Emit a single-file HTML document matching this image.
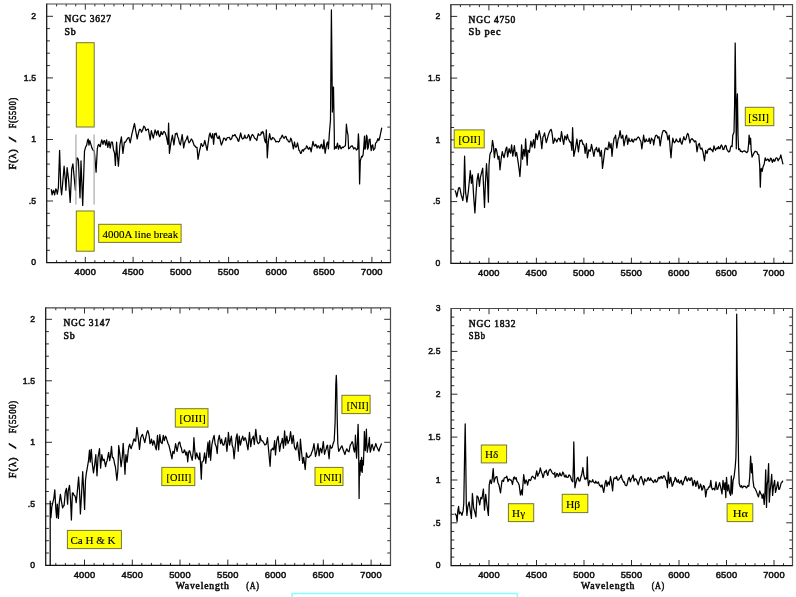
<!DOCTYPE html>
<html><head><meta charset="utf-8"><title>Galaxy spectra</title>
<style>
html,body{margin:0;padding:0;background:#fff;}
body{width:796px;height:597px;overflow:hidden;position:relative;}
svg text{fill:#000;}
.tk{font-family:"Liberation Sans",sans-serif;font-size:8.6px;letter-spacing:0.2px;fill:#111;stroke:#111;stroke-width:0.5px;}
.tt{font-family:"Liberation Serif",serif;font-size:9.3px;letter-spacing:0.75px;fill:#111;stroke:#111;stroke-width:0.55px;}
.lb{font-family:"Liberation Serif",serif;font-size:11.1px;stroke:#000;stroke-width:0.12px;}
</style></head><body>
<svg width="796" height="597" viewBox="0 0 796 597" style="position:absolute;left:0;top:0;will-change:transform">
<rect width="796" height="597" fill="#fff"/>
<rect x="292.0" y="593.5" width="225.4" height="8" rx="0.8" fill="#ffffff" stroke="#86fffa" stroke-width="1.6"/>
<path d="M56.6,262.6v-2.4M56.6,4.0v2.4M66.2,262.6v-2.4M66.2,4.0v2.4M75.7,262.6v-2.4M75.7,4.0v2.4M85.3,262.6v-5.7M85.3,4.0v5.7M94.9,262.6v-2.4M94.9,4.0v2.4M104.4,262.6v-2.4M104.4,4.0v2.4M114.0,262.6v-2.4M114.0,4.0v2.4M123.5,262.6v-2.4M123.5,4.0v2.4M133.1,262.6v-5.7M133.1,4.0v5.7M142.6,262.6v-2.4M142.6,4.0v2.4M152.2,262.6v-2.4M152.2,4.0v2.4M161.7,262.6v-2.4M161.7,4.0v2.4M171.3,262.6v-2.4M171.3,4.0v2.4M180.8,262.6v-5.7M180.8,4.0v5.7M190.4,262.6v-2.4M190.4,4.0v2.4M199.9,262.6v-2.4M199.9,4.0v2.4M209.5,262.6v-2.4M209.5,4.0v2.4M219.0,262.6v-2.4M219.0,4.0v2.4M228.6,262.6v-5.7M228.6,4.0v5.7M238.1,262.6v-2.4M238.1,4.0v2.4M247.7,262.6v-2.4M247.7,4.0v2.4M257.3,262.6v-2.4M257.3,4.0v2.4M266.8,262.6v-2.4M266.8,4.0v2.4M276.4,262.6v-5.7M276.4,4.0v5.7M285.9,262.6v-2.4M285.9,4.0v2.4M295.5,262.6v-2.4M295.5,4.0v2.4M305.0,262.6v-2.4M305.0,4.0v2.4M314.6,262.6v-2.4M314.6,4.0v2.4M324.1,262.6v-5.7M324.1,4.0v5.7M333.7,262.6v-2.4M333.7,4.0v2.4M343.2,262.6v-2.4M343.2,4.0v2.4M352.8,262.6v-2.4M352.8,4.0v2.4M362.3,262.6v-2.4M362.3,4.0v2.4M371.9,262.6v-5.7M371.9,4.0v5.7M381.4,262.6v-2.4M381.4,4.0v2.4M46.7,250.3h3.2M390.5,250.3h-3.2M46.7,238.0h3.2M390.5,238.0h-3.2M46.7,225.7h3.2M390.5,225.7h-3.2M46.7,213.3h3.2M390.5,213.3h-3.2M46.7,201.0h6.3M390.5,201.0h-6.3M46.7,188.7h3.2M390.5,188.7h-3.2M46.7,176.4h3.2M390.5,176.4h-3.2M46.7,164.1h3.2M390.5,164.1h-3.2M46.7,151.8h3.2M390.5,151.8h-3.2M46.7,139.5h6.3M390.5,139.5h-6.3M46.7,127.1h3.2M390.5,127.1h-3.2M46.7,114.8h3.2M390.5,114.8h-3.2M46.7,102.5h3.2M390.5,102.5h-3.2M46.7,90.2h3.2M390.5,90.2h-3.2M46.7,77.9h6.3M390.5,77.9h-6.3M46.7,65.6h3.2M390.5,65.6h-3.2M46.7,53.2h3.2M390.5,53.2h-3.2M46.7,40.9h3.2M390.5,40.9h-3.2M46.7,28.6h3.2M390.5,28.6h-3.2M46.7,16.3h6.3M390.5,16.3h-6.3" stroke="#222" stroke-width="0.95" fill="none"/>
<path d="M46.7,3.4V262.6H391.1" fill="none" stroke="#111" stroke-width="1.25"/>
<path d="M46.7,4.0H390.5V262.6" fill="none" stroke="#4a4a4a" stroke-width="1.2"/>
<text class="tk" x="74.5" y="275.1" textLength="21.6" lengthAdjust="spacingAndGlyphs">4000</text>
<text class="tk" x="122.3" y="275.1" textLength="21.6" lengthAdjust="spacingAndGlyphs">4500</text>
<text class="tk" x="170.0" y="275.1" textLength="21.6" lengthAdjust="spacingAndGlyphs">5000</text>
<text class="tk" x="217.8" y="275.1" textLength="21.6" lengthAdjust="spacingAndGlyphs">5500</text>
<text class="tk" x="265.6" y="275.1" textLength="21.6" lengthAdjust="spacingAndGlyphs">6000</text>
<text class="tk" x="313.3" y="275.1" textLength="21.6" lengthAdjust="spacingAndGlyphs">6500</text>
<text class="tk" x="361.1" y="275.1" textLength="21.6" lengthAdjust="spacingAndGlyphs">7000</text>
<text class="tk" x="36.3" y="265.3" text-anchor="end">0</text>
<text class="tk" x="36.3" y="203.7" text-anchor="end">.5</text>
<text class="tk" x="36.3" y="142.2" text-anchor="end">1</text>
<text class="tk" x="36.3" y="80.6" text-anchor="end">1.5</text>
<text class="tk" x="36.3" y="19.0" text-anchor="end">2</text>
<text class="tt" x="64.4" y="22.3" textLength="47.4" lengthAdjust="spacingAndGlyphs">NGC 3627</text>
<text class="tt" x="64.4" y="34.7" textLength="12.0" lengthAdjust="spacingAndGlyphs">Sb</text>
<g transform="translate(16.2,169.5) rotate(-90)"><text class="tt" x="0" y="0" textLength="21" lengthAdjust="spacingAndGlyphs">F(λ)</text><text class="tt" x="27.4" y="0" textLength="6.5" lengthAdjust="spacingAndGlyphs">/</text><text class="tt" x="41.2" y="0" textLength="31.2" lengthAdjust="spacingAndGlyphs">F(5500)</text></g>
<polyline points="51.3,189.6 52.1,194.8 52.8,191.7 53.6,190.3 54.6,194.8 55.8,188.8 56.6,190.5 57.3,194.1 58.4,187.3 59.6,150.3 60.8,187.3 61.6,194.8 62.6,184.3 64.1,166.2 65.3,179.8 65.9,190.3 67.1,167.7 68.6,179.8 70.2,202.4 71.7,169.2 72.9,163.9 74.4,179.8 75.4,190.3 76.9,157.9 77.7,158.3 78.4,160.2 80.0,197.8 81.0,160.9 82.7,205.4 84.5,151.1 85.6,147.2 86.7,145.1 87.5,140.6 88.2,139.1 89.0,145.1 89.8,140.6 92.0,148.1 93.1,150.2 94.3,151.1 96.1,172.2 97.3,148.8 98.0,145.6 98.8,144.3 99.5,146.1 100.3,146.6 101.1,142.5 101.8,139.8 103.0,144.3 103.8,141.0 104.5,140.6 105.7,145.1 106.6,139.8 107.8,147.3 109.0,141.3 110.2,148.1 111.2,142.1 112.4,142.1 113.6,150.3 114.6,153.4 115.4,165.4 116.6,142.1 117.2,152.6 118.4,166.2 119.9,145.1 121.4,136.8 122.9,153.4 124.4,142.1 125.5,142.1 126.7,139.8 127.8,138.0 128.9,137.5 130.2,142.8 132.0,133.7 134.5,123.5 135.7,130.7 137.2,139.0 138.0,135.0 138.7,132.2 139.5,129.5 140.0,129.2 140.8,129.8 141.5,132.2 142.6,130.3 143.8,126.2 144.9,127.3 146.0,130.7 147.2,129.3 148.3,129.2 150.2,139.8 151.3,130.7 153.3,138.2 155.1,129.9 155.8,131.7 156.6,135.2 157.3,131.9 158.1,130.7 158.8,134.8 159.6,136.7 160.3,135.4 161.1,131.5 161.9,134.1 162.6,134.5 163.4,132.0 164.1,131.5 165.2,132.8 166.4,136.7 167.9,144.3 168.6,123.2 169.4,153.3 170.9,142.8 172.4,135.2 173.9,145.0 175.4,133.7 176.2,134.0 176.9,133.0 177.7,136.7 178.4,138.2 179.4,142.9 180.4,145.0 182.2,134.5 183.7,148.0 184.5,143.5 185.2,141.3 186.4,139.3 187.5,136.0 188.2,140.1 189.0,142.8 190.1,141.6 191.3,139.0 192.4,140.3 193.5,143.5 194.3,145.9 195.0,145.8 196.0,147.4 197.0,147.3 198.0,159.3 199.6,150.3 200.3,148.0 201.1,143.5 201.8,144.4 202.6,146.5 203.7,145.0 204.8,140.5 207.1,150.3 208.6,139.8 209.3,135.1 210.1,133.0 210.8,136.3 211.6,138.2 212.7,133.7 213.6,144.3 214.6,133.7 215.4,134.5 216.1,133.0 216.9,136.5 217.6,138.2 218.4,138.5 219.2,136.0 221.4,145.0 222.5,142.2 223.7,138.2 224.8,138.4 225.9,140.5 227.1,137.9 228.2,137.5 229.3,137.3 230.4,139.8 231.6,138.8 232.7,135.2 233.8,135.8 235.0,134.5 236.1,137.0 237.2,138.2 238.0,140.7 238.7,141.3 240.7,133.0 241.6,137.4 242.5,139.0 243.6,138.5 244.8,135.2 245.5,138.0 246.3,138.2 247.4,137.6 248.5,134.5 249.3,136.0 250.1,140.5 251.2,136.8 252.3,134.5 253.4,135.6 254.6,138.2 255.7,138.8 256.8,140.5 257.6,136.3 258.3,133.7 259.2,135.2 260.0,135.2 260.9,134.5 261.3,132.2 262.1,133.0 262.8,131.5 263.6,133.4 264.3,138.2 265.1,141.5 265.8,142.8 266.3,129.9 267.3,157.8 268.4,141.3 269.6,133.7 270.4,137.7 271.1,139.8 271.9,139.3 272.6,137.5 273.7,138.0 274.9,139.8 276.0,142.0 277.1,141.3 278.3,142.0 279.4,141.3 280.1,138.6 280.9,138.2 281.7,136.1 282.4,135.2 283.4,137.8 284.4,138.2 285.3,136.3 286.2,136.7 286.9,139.6 287.7,139.8 288.4,141.6 289.2,142.0 289.9,141.6 290.7,138.2 291.5,139.5 292.2,142.8 293.4,148.8 294.5,142.0 295.2,146.0 296.0,147.3 296.7,146.1 297.5,142.8 299.0,150.3 299.8,151.1 300.5,153.3 301.3,153.1 302.0,150.3 302.8,149.7 303.5,151.1 304.3,148.9 305.0,148.8 305.8,148.7 306.5,145.8 307.3,146.6 308.0,148.8 308.8,149.3 309.6,147.3 310.3,148.1 311.1,151.8 313.0,141.3 314.1,145.8 314.8,146.2 315.6,144.3 316.3,145.1 317.1,148.0 317.8,146.0 318.6,145.8 319.4,148.0 320.1,148.0 320.9,145.0 321.6,144.3 322.4,147.9 323.1,148.8 323.9,139.8 325.1,153.3 326.1,147.3 326.9,143.4 327.6,142.0 328.4,148.8 329.4,133.0 330.5,120.0 331.4,9.9 332.4,112.0 333.5,87.0 334.3,135.2 334.4,149.2 335.3,146.6 336.2,148.4 337.5,143.1 338.4,149.2 339.7,145.3 341.0,148.8 342.3,147.1 343.2,147.6 344.1,146.6 345.4,145.7 345.8,138.7 346.4,124.2 347.1,130.8 348.0,135.2 348.6,148.8 349.8,147.9 351.1,146.2 352.0,145.7 352.9,147.1 353.8,149.0 354.6,147.9 355.5,148.0 356.4,150.1 357.7,148.8 358.4,133.9 358.9,142.2 359.6,183.9 360.3,160.9 361.6,156.3 362.3,156.8 363.1,154.8 363.4,151.0 363.9,145.7 364.5,136.1 365.0,149.2 365.6,147.5 366.5,135.2 367.1,136.9 367.6,149.2 368.3,147.5 369.1,139.6 370.0,139.1 370.6,145.7 371.2,150.6 372.0,145.7 372.7,144.8 373.5,150.1 374.9,148.4 375.6,143.1 376.6,142.2 377.9,138.7 378.8,140.5 379.7,137.8 380.6,133.4 381.7,128.1" fill="none" stroke="#000" stroke-width="1.25" stroke-linejoin="round" stroke-linecap="round"/>
<path d="M460.4,263.4v-2.4M460.4,4.7v2.4M469.9,263.4v-2.4M469.9,4.7v2.4M479.4,263.4v-2.4M479.4,4.7v2.4M488.9,263.4v-5.7M488.9,4.7v5.7M498.4,263.4v-2.4M498.4,4.7v2.4M507.9,263.4v-2.4M507.9,4.7v2.4M517.4,263.4v-2.4M517.4,4.7v2.4M526.9,263.4v-2.4M526.9,4.7v2.4M536.4,263.4v-5.7M536.4,4.7v5.7M545.9,263.4v-2.4M545.9,4.7v2.4M555.4,263.4v-2.4M555.4,4.7v2.4M564.9,263.4v-2.4M564.9,4.7v2.4M574.4,263.4v-2.4M574.4,4.7v2.4M583.9,263.4v-5.7M583.9,4.7v5.7M593.4,263.4v-2.4M593.4,4.7v2.4M602.9,263.4v-2.4M602.9,4.7v2.4M612.4,263.4v-2.4M612.4,4.7v2.4M621.9,263.4v-2.4M621.9,4.7v2.4M631.4,263.4v-5.7M631.4,4.7v5.7M640.9,263.4v-2.4M640.9,4.7v2.4M650.4,263.4v-2.4M650.4,4.7v2.4M659.9,263.4v-2.4M659.9,4.7v2.4M669.4,263.4v-2.4M669.4,4.7v2.4M678.9,263.4v-5.7M678.9,4.7v5.7M688.4,263.4v-2.4M688.4,4.7v2.4M697.9,263.4v-2.4M697.9,4.7v2.4M707.4,263.4v-2.4M707.4,4.7v2.4M716.9,263.4v-2.4M716.9,4.7v2.4M726.4,263.4v-5.7M726.4,4.7v5.7M735.9,263.4v-2.4M735.9,4.7v2.4M745.4,263.4v-2.4M745.4,4.7v2.4M754.9,263.4v-2.4M754.9,4.7v2.4M764.4,263.4v-2.4M764.4,4.7v2.4M773.9,263.4v-5.7M773.9,4.7v5.7M783.4,263.4v-2.4M783.4,4.7v2.4M450.9,251.0h3.2M792.5,251.0h-3.2M450.9,238.7h3.2M792.5,238.7h-3.2M450.9,226.3h3.2M792.5,226.3h-3.2M450.9,214.0h3.2M792.5,214.0h-3.2M450.9,201.6h6.3M792.5,201.6h-6.3M450.9,189.3h3.2M792.5,189.3h-3.2M450.9,176.9h3.2M792.5,176.9h-3.2M450.9,164.6h3.2M792.5,164.6h-3.2M450.9,152.2h3.2M792.5,152.2h-3.2M450.9,139.9h6.3M792.5,139.9h-6.3M450.9,127.5h3.2M792.5,127.5h-3.2M450.9,115.2h3.2M792.5,115.2h-3.2M450.9,102.8h3.2M792.5,102.8h-3.2M450.9,90.5h3.2M792.5,90.5h-3.2M450.9,78.1h6.3M792.5,78.1h-6.3M450.9,65.8h3.2M792.5,65.8h-3.2M450.9,53.4h3.2M792.5,53.4h-3.2M450.9,41.1h3.2M792.5,41.1h-3.2M450.9,28.8h3.2M792.5,28.8h-3.2M450.9,16.4h6.3M792.5,16.4h-6.3" stroke="#222" stroke-width="0.95" fill="none"/>
<path d="M450.9,4.1000000000000005V263.4H793.1" fill="none" stroke="#111" stroke-width="1.25"/>
<path d="M450.9,4.7H792.5V263.4" fill="none" stroke="#4a4a4a" stroke-width="1.2"/>
<text class="tk" x="478.1" y="275.9" textLength="21.6" lengthAdjust="spacingAndGlyphs">4000</text>
<text class="tk" x="525.6" y="275.9" textLength="21.6" lengthAdjust="spacingAndGlyphs">4500</text>
<text class="tk" x="573.1" y="275.9" textLength="21.6" lengthAdjust="spacingAndGlyphs">5000</text>
<text class="tk" x="620.6" y="275.9" textLength="21.6" lengthAdjust="spacingAndGlyphs">5500</text>
<text class="tk" x="668.1" y="275.9" textLength="21.6" lengthAdjust="spacingAndGlyphs">6000</text>
<text class="tk" x="715.6" y="275.9" textLength="21.6" lengthAdjust="spacingAndGlyphs">6500</text>
<text class="tk" x="763.1" y="275.9" textLength="21.6" lengthAdjust="spacingAndGlyphs">7000</text>
<text class="tk" x="440.5" y="266.1" text-anchor="end">0</text>
<text class="tk" x="440.5" y="204.3" text-anchor="end">.5</text>
<text class="tk" x="440.5" y="142.6" text-anchor="end">1</text>
<text class="tk" x="440.5" y="80.8" text-anchor="end">1.5</text>
<text class="tk" x="440.5" y="19.1" text-anchor="end">2</text>
<text class="tt" x="468.6" y="23.0" textLength="47.4" lengthAdjust="spacingAndGlyphs">NGC 4750</text>
<text class="tt" x="468.6" y="35.4" textLength="32.7" lengthAdjust="spacingAndGlyphs">Sb pec</text>
<polyline points="455.2,190.8 456.0,193.0 456.8,196.9 458.3,189.3 459.0,187.6 459.8,187.8 461.3,195.4 462.0,197.3 462.8,200.7 463.8,192.4 464.6,156.2 465.6,192.4 466.9,202.2 468.4,190.8 469.4,180.3 470.3,170.5 471.4,183.3 472.4,175.0 473.6,195.4 474.9,212.9 476.1,192.4 477.0,180.3 478.2,173.5 479.4,186.3 480.4,177.3 481.5,172.8 482.7,168.2 483.4,183.3 484.5,207.4 485.4,183.3 486.5,163.7 487.5,180.3 488.4,202.2 489.0,165.2 489.9,154.7 490.7,152.2 491.4,151.7 492.5,140.3 493.5,146.4 494.4,157.7 495.5,148.6 496.3,149.1 497.0,152.4 498.1,159.2 499.0,156.2 500.0,169.8 501.1,159.2 502.3,151.7 503.2,155.3 504.1,157.7 505.3,151.7 506.1,148.4 506.8,147.1 507.6,156.9 509.1,148.6 509.8,151.6 510.6,153.2 511.6,144.9 512.8,156.2 514.4,145.6 515.5,156.2 516.6,152.4 518.1,162.2 519.2,169.8 519.9,176.5 520.8,163.7 521.6,144.9 522.6,159.2 523.7,149.4 524.9,156.2 525.6,138.8 527.2,165.2 527.9,150.2 528.7,150.6 529.4,152.4 530.9,141.1 532.1,147.1 533.6,139.6 534.7,147.9 535.9,133.6 536.6,135.1 537.3,139.6 539.2,130.6 540.7,138.1 541.8,148.6 543.0,136.6 543.7,135.8 544.5,132.8 546.3,142.6 548.3,135.1 549.2,132.5 550.1,130.6 551.0,129.3 551.7,131.3 552.3,135.1 553.2,143.4 554.0,141.8 554.8,138.1 555.0,139.8 555.9,139.8 556.8,142.0 557.8,139.4 558.8,138.2 559.5,138.8 560.3,141.3 561.5,131.5 562.8,139.8 563.7,144.3 564.8,136.0 565.5,136.8 566.3,139.8 567.4,134.5 568.1,138.2 568.9,139.8 569.9,142.2 570.8,142.0 571.9,150.3 572.6,127.7 573.8,156.3 575.4,148.8 576.9,139.0 578.4,151.8 579.9,140.5 580.6,141.2 581.4,139.8 582.1,141.1 582.9,144.3 583.6,144.1 584.4,146.5 585.1,153.3 586.4,143.5 587.4,157.8 588.9,149.6 589.7,151.0 590.4,151.1 591.5,144.3 592.7,150.3 593.9,156.3 595.0,149.6 595.7,149.5 596.5,147.3 597.2,150.8 598.0,151.8 599.0,148.0 600.2,156.3 601.4,150.3 602.5,168.4 603.5,160.8 604.8,150.3 605.5,148.0 606.3,148.0 607.0,149.5 607.8,149.6 609.0,142.0 610.0,148.0 611.1,143.5 612.0,156.3 613.0,145.8 614.1,138.2 614.9,137.5 615.6,135.2 616.8,148.0 618.0,139.8 619.1,136.7 620.1,130.7 621.3,138.2 622.1,137.5 622.8,135.2 624.0,145.8 625.1,139.8 625.9,136.5 626.6,135.2 627.7,144.3 628.9,138.2 629.6,141.0 630.4,141.3 631.1,141.0 631.9,139.0 632.6,141.6 633.4,142.0 634.1,139.8 634.9,139.0 636.0,140.1 637.2,138.2 638.3,137.0 639.4,138.2 640.2,140.4 640.9,141.3 641.8,148.8 642.7,142.8 643.6,135.2 644.7,142.0 645.5,141.7 646.2,139.0 647.0,141.0 647.7,141.3 648.5,141.2 649.2,138.2 650.3,143.5 651.5,138.2 652.2,139.6 653.0,139.8 653.7,145.0 654.8,138.2 655.5,135.8 656.3,135.2 657.1,135.7 657.8,138.2 659.0,136.7 660.2,145.8 661.3,138.2 662.3,133.0 663.3,130.5 664.3,130.7 665.0,130.7 665.8,132.7 666.5,132.2 668.0,139.8 669.2,135.2 670.3,150.3 671.0,157.8 671.8,147.3 672.8,138.2 673.6,141.4 674.4,142.8 675.3,141.6 676.3,139.0 677.4,141.5 678.6,142.0 679.3,141.5 680.1,138.2 681.0,142.6 681.9,144.3 683.8,136.7 684.6,139.5 685.4,139.8 686.1,138.7 686.9,135.2 687.6,133.4 688.4,134.5 689.9,142.8 690.6,140.2 691.4,139.0 692.1,138.6 692.9,139.8 693.6,140.3 694.4,142.0 695.1,140.8 695.9,141.3 697.0,151.8 698.2,145.0 699.4,143.5 700.4,148.8 701.2,149.2 701.9,148.0 703.0,151.8 704.5,160.8 705.7,150.3 706.5,153.0 707.2,153.3 708.0,149.6 708.7,148.8 709.5,149.4 710.2,148.0 711.0,149.8 711.7,149.6 712.9,151.8 714.0,145.8 714.8,148.7 715.5,150.3 716.3,148.5 717.0,148.0 717.8,148.8 718.5,146.5 719.3,148.4 720.0,148.8 720.8,145.8 721.5,145.0 722.3,146.7 723.0,149.6 723.8,149.5 724.5,147.3 725.3,145.4 726.1,145.8 726.8,149.4 727.6,150.3 728.3,151.8 729.1,151.8 729.8,151.0 730.6,147.3 731.3,145.9 732.1,146.5 732.8,135.2 734.0,132.2 734.6,105.1 735.2,43.0 735.9,105.1 736.3,148.8 736.8,105.1 737.4,93.8 738.0,135.2 738.6,149.6 739.6,148.8 740.4,151.3 741.1,151.1 742.3,152.1 743.4,151.1 744.5,150.8 745.6,151.8 746.8,152.7 747.9,151.1 748.7,142.8 749.1,135.2 750.2,144.3 750.6,138.2 751.2,150.3 752.1,157.1 753.2,154.8 754.2,152.6 755.2,151.2 756.2,151.8 757.0,151.9 757.7,154.1 758.8,154.8 759.7,165.4 760.3,187.2 760.9,171.4 761.2,168.4 762.2,171.4 763.0,166.9 764.2,163.9 765.2,157.8 766.0,160.4 766.8,160.1 767.5,159.0 768.3,159.3 769.0,161.4 769.8,160.8 770.5,158.2 771.3,158.6 772.3,162.4 773.5,159.3 774.3,161.3 775.0,160.8 775.8,158.3 776.6,157.8 777.3,158.4 778.1,160.8 779.3,158.6 780.0,157.8 780.8,154.8 781.8,159.3 782.9,163.9" fill="none" stroke="#000" stroke-width="1.25" stroke-linejoin="round" stroke-linecap="round"/>
<path d="M55.8,565.3v-2.4M55.8,307.8v2.4M65.4,565.3v-2.4M65.4,307.8v2.4M74.9,565.3v-2.4M74.9,307.8v2.4M84.5,565.3v-5.7M84.5,307.8v5.7M94.1,565.3v-2.4M94.1,307.8v2.4M103.6,565.3v-2.4M103.6,307.8v2.4M113.2,565.3v-2.4M113.2,307.8v2.4M122.7,565.3v-2.4M122.7,307.8v2.4M132.3,565.3v-5.7M132.3,307.8v5.7M141.8,565.3v-2.4M141.8,307.8v2.4M151.4,565.3v-2.4M151.4,307.8v2.4M160.9,565.3v-2.4M160.9,307.8v2.4M170.5,565.3v-2.4M170.5,307.8v2.4M180.0,565.3v-5.7M180.0,307.8v5.7M189.6,565.3v-2.4M189.6,307.8v2.4M199.1,565.3v-2.4M199.1,307.8v2.4M208.7,565.3v-2.4M208.7,307.8v2.4M218.2,565.3v-2.4M218.2,307.8v2.4M227.8,565.3v-5.7M227.8,307.8v5.7M237.3,565.3v-2.4M237.3,307.8v2.4M246.9,565.3v-2.4M246.9,307.8v2.4M256.5,565.3v-2.4M256.5,307.8v2.4M266.0,565.3v-2.4M266.0,307.8v2.4M275.6,565.3v-5.7M275.6,307.8v5.7M285.1,565.3v-2.4M285.1,307.8v2.4M294.7,565.3v-2.4M294.7,307.8v2.4M304.2,565.3v-2.4M304.2,307.8v2.4M313.8,565.3v-2.4M313.8,307.8v2.4M323.3,565.3v-5.7M323.3,307.8v5.7M332.9,565.3v-2.4M332.9,307.8v2.4M342.4,565.3v-2.4M342.4,307.8v2.4M352.0,565.3v-2.4M352.0,307.8v2.4M361.5,565.3v-2.4M361.5,307.8v2.4M371.1,565.3v-5.7M371.1,307.8v5.7M380.6,565.3v-2.4M380.6,307.8v2.4M45.7,553.0h3.2M390.5,553.0h-3.2M45.7,540.7h3.2M390.5,540.7h-3.2M45.7,528.4h3.2M390.5,528.4h-3.2M45.7,516.1h3.2M390.5,516.1h-3.2M45.7,503.8h6.3M390.5,503.8h-6.3M45.7,491.5h3.2M390.5,491.5h-3.2M45.7,479.2h3.2M390.5,479.2h-3.2M45.7,466.9h3.2M390.5,466.9h-3.2M45.7,454.6h3.2M390.5,454.6h-3.2M45.7,442.3h6.3M390.5,442.3h-6.3M45.7,430.0h3.2M390.5,430.0h-3.2M45.7,417.7h3.2M390.5,417.7h-3.2M45.7,405.4h3.2M390.5,405.4h-3.2M45.7,393.1h3.2M390.5,393.1h-3.2M45.7,380.8h6.3M390.5,380.8h-6.3M45.7,368.5h3.2M390.5,368.5h-3.2M45.7,356.2h3.2M390.5,356.2h-3.2M45.7,343.9h3.2M390.5,343.9h-3.2M45.7,331.6h3.2M390.5,331.6h-3.2M45.7,319.3h6.3M390.5,319.3h-6.3" stroke="#222" stroke-width="0.95" fill="none"/>
<path d="M45.7,307.2V565.3H391.1" fill="none" stroke="#111" stroke-width="1.25"/>
<path d="M45.7,307.8H390.5V565.3" fill="none" stroke="#4a4a4a" stroke-width="1.2"/>
<text class="tk" x="73.7" y="577.8" textLength="21.6" lengthAdjust="spacingAndGlyphs">4000</text>
<text class="tk" x="121.5" y="577.8" textLength="21.6" lengthAdjust="spacingAndGlyphs">4500</text>
<text class="tk" x="169.2" y="577.8" textLength="21.6" lengthAdjust="spacingAndGlyphs">5000</text>
<text class="tk" x="217.0" y="577.8" textLength="21.6" lengthAdjust="spacingAndGlyphs">5500</text>
<text class="tk" x="264.8" y="577.8" textLength="21.6" lengthAdjust="spacingAndGlyphs">6000</text>
<text class="tk" x="312.5" y="577.8" textLength="21.6" lengthAdjust="spacingAndGlyphs">6500</text>
<text class="tk" x="360.3" y="577.8" textLength="21.6" lengthAdjust="spacingAndGlyphs">7000</text>
<text class="tk" x="35.3" y="568.0" text-anchor="end">0</text>
<text class="tk" x="35.3" y="506.5" text-anchor="end">.5</text>
<text class="tk" x="35.3" y="445.0" text-anchor="end">1</text>
<text class="tk" x="35.3" y="383.5" text-anchor="end">1.5</text>
<text class="tk" x="35.3" y="322.0" text-anchor="end">2</text>
<text class="tt" x="63.4" y="326.1" textLength="47.4" lengthAdjust="spacingAndGlyphs">NGC 3147</text>
<text class="tt" x="63.4" y="338.5" textLength="12.0" lengthAdjust="spacingAndGlyphs">Sb</text>
<g transform="translate(16.2,478.2) rotate(-90)"><text class="tt" x="0" y="0" textLength="21.7" lengthAdjust="spacingAndGlyphs">F(λ)</text><text class="tt" x="29.6" y="0" textLength="6.5" lengthAdjust="spacingAndGlyphs">/</text><text class="tt" x="44.9" y="0" textLength="33.3" lengthAdjust="spacingAndGlyphs">F(5500)</text></g>
<text class="tt" x="175.7" y="588.5" textLength="54" lengthAdjust="spacingAndGlyphs">Wavelength</text>
<text class="tt" x="246.3" y="588.5" textLength="13.2" lengthAdjust="spacingAndGlyphs">(A)</text>
<polyline points="50.2,565.2 50.2,501.1 50.9,517.7 51.8,507.1 52.8,502.6 53.9,498.1 54.8,489.8 55.8,508.6 56.6,517.7 57.3,504.1 58.4,518.4 59.3,502.6 60.4,494.3 61.4,501.1 62.6,507.9 63.4,505.9 64.1,505.6 65.3,492.1 66.4,488.3 67.6,504.1 68.3,490.6 69.5,485.3 70.6,501.1 71.4,520.0 72.4,492.8 73.2,493.0 73.9,495.1 74.7,495.5 75.4,497.3 76.2,502.6 77.4,490.6 78.6,477.0 79.5,490.6 80.4,513.9 81.5,495.1 82.7,471.7 83.7,490.6 84.6,509.4 85.5,480.3 86.4,472.8 87.5,466.7 88.5,460.7 89.5,450.1 90.2,462.2 91.3,449.4 92.3,463.7 93.5,472.8 94.6,465.2 95.8,454.7 97.0,475.8 98.0,457.7 99.5,448.6 100.6,468.2 101.8,454.7 103.0,460.7 104.1,459.2 105.6,466.7 106.3,462.8 107.1,460.7 108.6,452.4 109.7,460.7 110.5,456.2 111.5,446.4 112.4,457.7 113.1,457.4 113.9,459.9 114.6,464.0 115.4,466.7 116.9,480.3 117.9,469.8 118.7,445.6 119.9,454.7 121.1,466.7 122.2,457.7 123.2,443.4 124.4,463.7 125.0,474.3 125.9,454.7 127.1,462.2 128.2,450.9 128.9,446.5 129.7,444.1 130.4,447.1 131.2,448.6 132.0,445.7 132.7,444.1 133.5,440.0 134.2,438.8 135.0,441.1 135.7,441.1 136.9,427.5 138.3,438.1 139.5,449.4 140.7,438.1 141.6,435.6 142.5,434.3 144.8,442.6 146.3,435.1 147.0,432.2 147.8,430.6 148.5,432.7 149.3,436.6 150.0,443.7 150.8,442.5 151.5,439.2 152.7,445.2 153.8,440.7 154.5,442.6 155.3,446.7 156.3,449.8 157.5,435.4 158.7,449.8 159.8,434.7 160.8,442.2 162.1,443.7 163.3,435.4 164.3,440.7 165.5,436.2 166.2,437.4 166.9,439.9 168.1,443.7 168.8,445.0 169.6,448.2 170.8,453.5 172.0,458.8 172.9,451.3 174.1,453.5 175.6,443.7 177.1,451.3 178.3,444.5 179.1,442.2 179.8,442.2 180.6,446.3 181.4,448.2 182.1,451.8 182.9,452.8 183.6,452.4 184.4,449.8 185.1,451.5 185.9,455.0 186.9,452.0 187.7,461.8 188.6,452.8 189.3,450.7 189.9,451.3 191.0,455.8 192.2,460.3 193.4,449.8 193.9,437.7 194.6,448.2 195.5,458.8 196.7,452.8 197.9,457.3 199.0,459.6 199.8,452.8 200.5,463.3 201.3,479.1 202.0,461.8 202.8,461.7 203.5,460.3 204.6,452.8 205.8,463.3 207.0,451.3 208.0,442.2 208.8,457.3 209.7,440.7 210.6,460.3 211.8,445.2 213.0,439.2 214.1,435.4 215.1,443.7 216.3,446.7 217.2,453.5 218.1,440.7 219.3,435.4 220.6,443.7 221.6,439.2 222.4,443.3 223.1,445.2 223.9,445.0 224.6,442.2 225.7,437.7 226.9,451.3 227.8,442.2 228.4,432.4 229.6,445.2 230.7,439.2 231.4,436.2 232.2,445.2 233.2,448.2 234.1,458.8 235.2,446.7 236.2,437.7 237.1,433.9 238.2,451.3 239.2,436.2 240.4,445.2 241.7,439.2 242.7,436.2 243.8,440.7 245.0,437.7 245.7,438.8 246.5,442.2 248.0,449.8 249.5,432.4 250.7,446.7 251.8,439.2 252.5,438.4 253.3,436.2 254.3,444.5 255.8,429.4 257.0,440.7 257.8,443.0 258.5,443.7 259.8,442.2 260.0,435.4 260.8,438.8 261.5,440.7 262.6,440.9 263.8,443.0 264.9,445.0 266.0,444.5 266.8,442.0 267.5,437.7 268.7,451.3 270.1,466.3 271.0,449.8 271.7,450.1 272.4,448.2 273.6,449.8 274.6,440.7 275.5,455.0 276.6,442.2 277.3,438.5 278.1,436.2 279.6,451.3 280.8,443.7 281.6,442.5 282.3,438.4 283.5,448.2 284.6,430.9 285.6,445.2 286.8,436.2 288.0,443.7 288.7,441.0 289.4,440.7 290.6,431.7 292.0,443.7 293.2,435.4 294.4,446.7 295.1,448.9 295.9,449.8 297.4,442.2 298.4,451.3 299.5,460.3 300.4,439.2 301.5,451.3 302.7,463.3 303.7,457.3 305.2,469.4 306.4,452.8 307.2,456.2 307.9,457.3 308.8,457.4 309.8,455.8 310.6,455.7 311.6,452.8 312.8,449.8 314.0,443.7 315.5,456.5 316.2,453.8 317.0,449.8 318.0,443.7 319.1,455.8 320.3,448.2 321.1,449.6 321.8,452.8 323.3,441.5 324.5,454.3 325.3,451.0 326.0,449.8 326.8,446.2 327.5,445.2 329.1,458.8 330.1,445.2 330.9,448.0 331.6,448.2 332.4,446.9 333.1,443.7 334.2,440.7 335.1,422.6 335.8,384.9 336.3,375.4 336.7,384.9 337.2,418.1 337.8,443.7 338.7,451.3 340.0,449.2 341.1,446.9 341.9,445.8 343.0,449.2 344.1,452.2 344.9,454.5 346.0,450.7 346.8,448.8 347.9,451.1 349.0,451.8 350.2,445.4 351.3,443.5 352.2,441.6 353.0,443.9 353.7,449.2 354.5,452.2 355.1,446.2 355.4,435.2 356.0,449.2 356.6,458.2 357.5,440.1 358.1,424.3 358.6,443.9 359.1,498.5 359.5,463.3 359.9,475.4 360.4,460.3 361.0,470.9 361.6,457.3 362.2,472.4 362.8,460.3 363.4,465.0 364.0,446.2 364.4,431.5 364.9,446.2 365.3,450.7 365.8,441.6 366.4,429.2 366.8,443.9 367.3,452.2 367.7,449.2 368.3,446.2 368.8,443.2 369.4,437.5 369.8,447.7 370.3,452.2 370.9,449.9 371.5,445.4 372.2,444.3 373.0,447.7 373.8,450.7 374.5,447.7 375.3,445.4 375.8,443.5 376.6,446.2 377.3,447.7 378.3,449.9 379.0,451.1 379.9,447.7 380.7,445.8 381.4,443.9" fill="none" stroke="#000" stroke-width="1.25" stroke-linejoin="round" stroke-linecap="round"/>
<path d="M460.5,565.7v-2.4M460.5,308.5v2.4M470.0,565.7v-2.4M470.0,308.5v2.4M479.5,565.7v-2.4M479.5,308.5v2.4M489.0,565.7v-5.7M489.0,308.5v5.7M498.5,565.7v-2.4M498.5,308.5v2.4M508.0,565.7v-2.4M508.0,308.5v2.4M517.5,565.7v-2.4M517.5,308.5v2.4M527.0,565.7v-2.4M527.0,308.5v2.4M536.5,565.7v-5.7M536.5,308.5v5.7M546.0,565.7v-2.4M546.0,308.5v2.4M555.5,565.7v-2.4M555.5,308.5v2.4M565.0,565.7v-2.4M565.0,308.5v2.4M574.5,565.7v-2.4M574.5,308.5v2.4M584.0,565.7v-5.7M584.0,308.5v5.7M593.5,565.7v-2.4M593.5,308.5v2.4M603.0,565.7v-2.4M603.0,308.5v2.4M612.5,565.7v-2.4M612.5,308.5v2.4M622.0,565.7v-2.4M622.0,308.5v2.4M631.5,565.7v-5.7M631.5,308.5v5.7M641.0,565.7v-2.4M641.0,308.5v2.4M650.5,565.7v-2.4M650.5,308.5v2.4M660.0,565.7v-2.4M660.0,308.5v2.4M669.5,565.7v-2.4M669.5,308.5v2.4M679.0,565.7v-5.7M679.0,308.5v5.7M688.5,565.7v-2.4M688.5,308.5v2.4M698.0,565.7v-2.4M698.0,308.5v2.4M707.5,565.7v-2.4M707.5,308.5v2.4M717.0,565.7v-2.4M717.0,308.5v2.4M726.5,565.7v-5.7M726.5,308.5v5.7M736.0,565.7v-2.4M736.0,308.5v2.4M745.5,565.7v-2.4M745.5,308.5v2.4M755.0,565.7v-2.4M755.0,308.5v2.4M764.5,565.7v-2.4M764.5,308.5v2.4M774.0,565.7v-5.7M774.0,308.5v5.7M783.5,565.7v-2.4M783.5,308.5v2.4M451.1,557.1h3.2M792.5,557.1h-3.2M451.1,548.6h3.2M792.5,548.6h-3.2M451.1,540.0h3.2M792.5,540.0h-3.2M451.1,531.4h3.2M792.5,531.4h-3.2M451.1,522.8h6.3M792.5,522.8h-6.3M451.1,514.3h3.2M792.5,514.3h-3.2M451.1,505.7h3.2M792.5,505.7h-3.2M451.1,497.1h3.2M792.5,497.1h-3.2M451.1,488.5h3.2M792.5,488.5h-3.2M451.1,480.0h6.3M792.5,480.0h-6.3M451.1,471.4h3.2M792.5,471.4h-3.2M451.1,462.8h3.2M792.5,462.8h-3.2M451.1,454.3h3.2M792.5,454.3h-3.2M451.1,445.7h3.2M792.5,445.7h-3.2M451.1,437.1h6.3M792.5,437.1h-6.3M451.1,428.5h3.2M792.5,428.5h-3.2M451.1,420.0h3.2M792.5,420.0h-3.2M451.1,411.4h3.2M792.5,411.4h-3.2M451.1,402.8h3.2M792.5,402.8h-3.2M451.1,394.2h6.3M792.5,394.2h-6.3M451.1,385.7h3.2M792.5,385.7h-3.2M451.1,377.1h3.2M792.5,377.1h-3.2M451.1,368.5h3.2M792.5,368.5h-3.2M451.1,359.9h3.2M792.5,359.9h-3.2M451.1,351.4h6.3M792.5,351.4h-6.3M451.1,342.8h3.2M792.5,342.8h-3.2M451.1,334.2h3.2M792.5,334.2h-3.2M451.1,325.7h3.2M792.5,325.7h-3.2M451.1,317.1h3.2M792.5,317.1h-3.2" stroke="#222" stroke-width="0.95" fill="none"/>
<path d="M451.1,307.9V565.7H793.1" fill="none" stroke="#111" stroke-width="1.25"/>
<path d="M451.1,308.5H792.5V565.7" fill="none" stroke="#4a4a4a" stroke-width="1.2"/>
<text class="tk" x="478.2" y="578.2" textLength="21.6" lengthAdjust="spacingAndGlyphs">4000</text>
<text class="tk" x="525.7" y="578.2" textLength="21.6" lengthAdjust="spacingAndGlyphs">4500</text>
<text class="tk" x="573.2" y="578.2" textLength="21.6" lengthAdjust="spacingAndGlyphs">5000</text>
<text class="tk" x="620.7" y="578.2" textLength="21.6" lengthAdjust="spacingAndGlyphs">5500</text>
<text class="tk" x="668.2" y="578.2" textLength="21.6" lengthAdjust="spacingAndGlyphs">6000</text>
<text class="tk" x="715.7" y="578.2" textLength="21.6" lengthAdjust="spacingAndGlyphs">6500</text>
<text class="tk" x="763.2" y="578.2" textLength="21.6" lengthAdjust="spacingAndGlyphs">7000</text>
<text class="tk" x="440.7" y="568.4" text-anchor="end">0</text>
<text class="tk" x="440.7" y="525.5" text-anchor="end">.5</text>
<text class="tk" x="440.7" y="482.7" text-anchor="end">1</text>
<text class="tk" x="440.7" y="439.8" text-anchor="end">1.5</text>
<text class="tk" x="440.7" y="396.9" text-anchor="end">2</text>
<text class="tk" x="440.7" y="354.1" text-anchor="end">2.5</text>
<text class="tk" x="440.7" y="311.2" text-anchor="end">3</text>
<text class="tt" x="468.8" y="326.8" textLength="47.4" lengthAdjust="spacingAndGlyphs">NGC 1832</text>
<text class="tt" x="468.8" y="339.2" textLength="16.8" lengthAdjust="spacingAndGlyphs">SBb</text>
<text class="tt" x="581.1" y="588.9" textLength="54" lengthAdjust="spacingAndGlyphs">Wavelength</text>
<text class="tt" x="651.7" y="588.9" textLength="13.2" lengthAdjust="spacingAndGlyphs">(A)</text>
<polyline points="455.2,513.9 456.3,515.4 457.1,521.4 457.8,510.9 458.6,506.3 459.3,513.9 460.1,512.2 460.8,512.4 461.9,515.4 463.1,510.9 463.8,503.3 464.6,455.1 465.2,423.9 465.8,462.6 466.3,504.8 466.9,515.4 467.9,506.3 469.1,501.8 470.3,510.9 471.4,518.4 472.4,493.5 473.6,507.8 474.9,512.4 475.9,516.9 477.0,495.8 478.2,497.3 479.7,504.8 480.9,497.3 481.9,498.8 483.4,489.0 484.5,510.1 485.7,494.3 486.9,504.8 488.4,515.4 489.2,485.2 490.2,479.9 491.4,483.7 492.2,479.2 493.2,468.6 494.1,482.2 494.8,479.0 495.5,477.7 496.3,476.6 497.0,476.9 497.8,482.2 499.0,485.2 500.5,492.8 502.0,480.7 502.7,480.1 503.5,481.5 504.2,478.1 505.0,477.7 505.9,477.6 506.8,476.2 508.0,481.5 508.8,479.4 509.5,479.2 510.3,480.2 511.0,479.9 511.8,481.6 512.5,484.5 513.6,477.7 514.4,477.0 515.1,479.2 516.2,477.7 516.9,481.1 517.7,482.2 518.4,483.1 519.2,485.2 520.4,495.0 521.6,489.8 522.3,495.0 523.1,482.2 523.7,474.7 524.9,483.7 526.1,479.9 526.9,481.9 527.6,485.2 528.7,479.9 529.4,479.5 530.2,480.7 530.9,479.9 531.7,476.9 532.7,476.2 533.6,477.7 534.4,477.8 535.1,479.2 536.7,470.9 537.7,476.2 538.5,473.7 539.2,473.2 540.3,467.9 541.5,472.4 542.2,473.9 543.0,477.7 543.7,475.7 544.5,471.7 545.4,472.2 546.3,470.1 547.1,473.9 547.8,475.4 548.6,471.9 549.3,470.1 550.3,469.2 551.3,470.9 552.3,473.1 553.2,473.9 554.0,474.2 554.8,472.4 555.0,477.3 555.9,476.7 556.8,473.5 557.6,473.9 558.3,476.5 559.1,475.4 559.8,472.8 560.6,475.0 561.3,475.8 562.1,474.6 562.8,472.0 563.6,473.3 564.4,476.5 565.1,477.1 565.9,475.0 566.6,477.1 567.4,477.3 568.1,477.3 568.9,475.0 569.6,475.1 570.4,476.5 571.6,480.3 572.8,481.8 573.4,465.2 573.8,441.9 574.3,465.2 574.9,487.8 575.8,483.3 576.9,478.8 577.9,477.3 579.1,481.1 579.9,481.0 580.6,478.0 581.8,474.3 582.9,467.5 583.9,475.8 585.1,479.6 585.9,477.9 586.7,478.8 587.3,456.9 587.9,480.3 588.5,485.6 589.7,480.3 590.4,481.7 591.2,481.8 591.9,481.9 592.7,479.6 593.4,481.9 594.2,482.6 595.0,483.2 595.7,481.1 596.5,482.8 597.2,483.3 598.4,481.8 599.5,485.6 600.2,485.4 601.0,487.1 602.0,484.8 602.9,488.6 603.7,492.4 604.5,487.1 605.2,482.6 606.0,480.3 607.0,486.3 608.1,481.8 609.3,484.8 610.5,476.5 611.5,481.8 612.6,490.9 613.5,480.3 614.2,477.9 615.0,478.0 615.8,478.6 616.5,476.5 617.3,479.4 618.0,480.3 618.8,479.8 619.5,478.0 620.4,477.5 621.3,475.0 622.1,479.1 622.8,480.3 623.6,482.4 624.4,481.8 625.1,484.9 625.9,485.6 626.6,485.7 627.4,483.3 628.3,478.8 629.2,477.3 630.4,481.8 631.1,479.2 631.9,478.0 633.1,475.0 634.1,481.1 634.9,479.1 635.6,478.8 636.4,479.7 637.2,481.8 638.2,484.8 639.4,480.3 640.3,477.6 641.2,476.5 642.4,480.3 643.6,484.8 644.7,478.8 645.5,480.7 646.2,481.1 647.0,480.7 647.7,478.0 648.5,477.7 649.2,480.3 650.0,480.2 650.7,478.0 651.5,480.1 652.2,480.3 653.0,482.1 653.7,482.6 654.5,480.4 655.2,479.6 656.0,482.2 656.8,481.8 657.5,480.7 658.3,478.0 659.0,477.3 659.8,478.8 660.5,477.1 661.3,476.5 662.0,478.4 662.8,478.0 663.5,475.8 664.3,475.8 665.0,477.3 665.8,480.2 666.5,480.3 667.4,487.8 668.3,472.0 669.5,483.3 670.7,477.3 672.2,486.3 673.0,484.8 673.7,481.8 674.5,481.0 675.2,477.3 676.0,478.5 676.8,481.8 677.5,482.0 678.3,479.6 679.0,482.5 679.8,483.3 680.5,481.1 681.3,480.3 682.0,483.8 682.8,484.8 683.5,481.5 684.3,480.3 685.0,477.4 685.8,476.5 686.6,480.2 687.3,481.1 688.1,478.8 688.8,478.0 689.6,480.4 690.3,480.3 691.1,477.7 691.8,478.0 692.9,485.6 693.6,484.2 694.4,480.3 695.1,482.2 695.9,486.3 696.7,482.8 697.4,481.1 698.9,488.6 699.7,487.4 700.4,484.1 701.2,485.9 701.9,490.1 702.7,489.2 703.4,485.6 704.2,486.2 705.0,489.4 705.7,496.9 706.9,489.4 707.7,489.4 708.4,487.8 709.2,486.5 709.9,487.1 710.8,480.3 711.7,487.8 712.5,489.7 713.2,488.6 714.0,488.3 714.8,490.1 716.0,481.8 717.0,489.4 717.8,489.1 718.5,486.3 719.6,482.6 720.8,487.8 722.0,493.9 723.0,480.3 724.1,489.4 725.0,482.6 725.8,497.6 726.5,477.3 727.6,490.9 728.6,484.8 729.5,492.4 730.6,495.4 731.3,475.8 732.2,493.9 733.1,480.3 734.0,477.3 735.1,468.2 735.9,457.7 736.3,435.1 736.7,314.2 737.2,374.8 738.0,420.0 738.6,465.2 739.2,483.3 740.1,486.3 740.8,487.0 741.6,485.6 742.3,487.8 743.1,487.1 743.8,486.0 744.6,486.3 745.4,486.3 746.1,487.8 746.9,487.6 747.6,485.6 748.8,486.3 749.7,477.3 750.6,456.2 751.5,472.8 752.1,463.7 753.0,480.3 753.9,487.1 755.1,488.6 756.2,490.9 757.3,493.9 758.5,496.9 759.7,490.9 760.9,493.9 761.6,495.0 762.2,498.4 763.3,493.9 764.2,504.4 765.0,492.4 765.7,469.8 766.5,507.4 767.2,484.8 767.8,480.3 768.6,463.7 769.3,502.2 770.1,490.9 770.8,484.8 771.7,474.3 772.6,495.4 773.5,486.3 774.6,480.3 775.5,492.4 776.6,487.8 777.8,481.8 778.8,489.4 779.6,488.9 780.3,486.3 781.1,483.1 781.8,482.6 782.6,481.1" fill="none" stroke="#000" stroke-width="1.25" stroke-linejoin="round" stroke-linecap="round"/>
<path d="M75.9,134.5V204.6M94.1,134.5V204.6" stroke="#aaa" stroke-width="1.2" fill="none"/>
<rect x="76.3" y="42.7" width="17.9" height="84.3" fill="#ffff00" stroke="#74743c" stroke-width="1"/>
<rect x="76.3" y="211.0" width="17.9" height="40.2" fill="#ffff00" stroke="#74743c" stroke-width="1"/>
<rect x="98.7" y="224.3" width="82.4" height="18.1" fill="#ffff00" stroke="#74743c" stroke-width="1"/>
<text class="lb" x="102.6" y="237.5" textLength="75.6" lengthAdjust="spacingAndGlyphs">4000A line break</text>
<rect x="454.2" y="129.9" width="30.0" height="18.0" fill="#ffff00" stroke="#74743c" stroke-width="1"/>
<text class="lb" x="458.5" y="143.0" textLength="22.2" lengthAdjust="spacingAndGlyphs">[OII]</text>
<rect x="745.3" y="107.3" width="28.5" height="18.4" fill="#ffff00" stroke="#74743c" stroke-width="1"/>
<text class="lb" x="748.3" y="120.6" textLength="20.6" lengthAdjust="spacingAndGlyphs">[SII]</text>
<rect x="175.3" y="408.7" width="32.7" height="18.4" fill="#ffff00" stroke="#74743c" stroke-width="1"/>
<text class="lb" x="179.5" y="422.0" textLength="26.2" lengthAdjust="spacingAndGlyphs">[OIII]</text>
<rect x="161.8" y="467.4" width="33.0" height="18.2" fill="#ffff00" stroke="#74743c" stroke-width="1"/>
<text class="lb" x="166.6" y="480.6" textLength="24.7" lengthAdjust="spacingAndGlyphs">[OIII]</text>
<rect x="341.9" y="395.3" width="28.2" height="18.3" fill="#ffff00" stroke="#74743c" stroke-width="1"/>
<text class="lb" x="346.8" y="408.6" textLength="21.7" lengthAdjust="spacingAndGlyphs">[NII]</text>
<rect x="315.0" y="467.4" width="28.0" height="18.1" fill="#ffff00" stroke="#74743c" stroke-width="1"/>
<text class="lb" x="319.6" y="480.6" textLength="22.0" lengthAdjust="spacingAndGlyphs">[NII]</text>
<rect x="67.4" y="530.4" width="54.0" height="18.2" fill="#ffff00" stroke="#74743c" stroke-width="1"/>
<text class="lb" x="70.4" y="543.6" textLength="45.1" lengthAdjust="spacingAndGlyphs">Ca H &amp; K</text>
<rect x="481.3" y="445.0" width="25.3" height="17.9" fill="#ffff00" stroke="#74743c" stroke-width="1"/>
<text class="lb" x="485.0" y="458.1" textLength="13.3" lengthAdjust="spacingAndGlyphs">Hδ</text>
<rect x="508.4" y="503.7" width="25.3" height="17.9" fill="#ffff00" stroke="#74743c" stroke-width="1"/>
<text class="lb" x="512.1" y="516.8" textLength="13.0" lengthAdjust="spacingAndGlyphs">Hγ</text>
<rect x="562.2" y="494.3" width="25.6" height="18.3" fill="#ffff00" stroke="#74743c" stroke-width="1"/>
<text class="lb" x="565.9" y="507.6" textLength="14.2" lengthAdjust="spacingAndGlyphs">Hβ</text>
<rect x="727.1" y="503.7" width="25.7" height="17.9" fill="#ffff00" stroke="#74743c" stroke-width="1"/>
<text class="lb" x="732.8" y="516.8" textLength="15.2" lengthAdjust="spacingAndGlyphs">Hα</text>
</svg>
</body></html>
